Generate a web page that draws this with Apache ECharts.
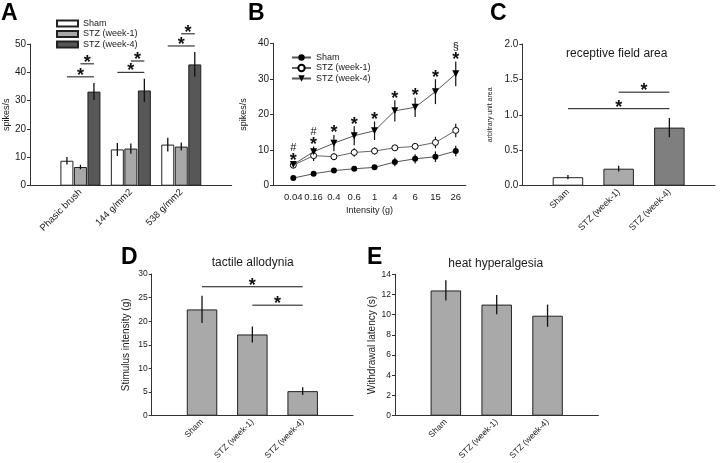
<!DOCTYPE html>
<html><head><meta charset="utf-8">
<script src="https://cdn.jsdelivr.net/npm/echarts@6/dist/echarts.min.js"></script>
<style>html,body{margin:0;padding:0;background:#fff}#c{width:720px;height:463px}</style>
</head><body><div id="c"></div>
<script>
// ---------- Panel A ----------
const groupsA = ['Phasic brush', '144 g/mm2', '538 g/mm2'];
const shamA = [8.8, 12.8, 14.5];
const shamAErr = [1.3, 2.3, 2.4];
const stz1A = [6.6, 13.1, 13.8];
const stz1AErr = [0.8, 1.8, 1.4];
const stz4A = [33.2, 33.6, 42.8];
const stz4AErr = [3.0, 4.1, 4.4];
// [group, fromBar, toBar, y]
const sigA = [[0,0,2,38.4],[0,1,2,43],[1,0,2,40],[1,1,2,44],[2,0,2,49.3],[2,1,2,53.6]];

// ---------- Panel B ----------
const intensB = ['0.04','0.16','0.4','0.6','1','4','6','15','26'];
const shamB = [2.1, 3.3, 4.2, 4.7, 5.1, 6.6, 7.5, 8.1, 9.7];
const shamBErr = [0.3, 0.4, 0.5, 0.5, 0.6, 1.2, 1.3, 1.5, 1.5];
const stz1B = [5.7, 8.4, 8.1, 9.3, 9.7, 10.6, 11.0, 12.1, 15.5];
const stz1BErr = [0.5, 1.5, 1.0, 1.2, 1.0, 0.8, 0.8, 1.6, 1.9];
const stz4B = [5.9, 9.5, 11.9, 14.0, 15.4, 21.0, 22.0, 26.4, 31.4];
const stz4BErr = [0.7, 1.5, 2.3, 2.7, 2.6, 3.0, 2.7, 3.5, 3.5];
const annB = [['*','#'],['*','#'],['*'],['*'],['*'],['*'],['*'],['*'],['*','§']];

// ---------- Panel C ----------
const catsC = ['Sham','STZ (week-1)','STZ (week-4)'];
const valC = [0.12, 0.24, 0.82];
const errC = [0.03, 0.04, 0.135];
const sigC = [[0,2,1.087],[1,2,1.32]];

// ---------- Panel D ----------
const catsD = ['Sham','STZ (week-1)','STZ (week-4)'];
const valD = [22.5, 17.2, 5.2];
const errD = [2.9, 1.7, 0.8];
const sigD = [[0,2,27.3],[1,2,23.4]];

// ---------- Panel E ----------
const catsE = ['Sham','STZ (week-1)','STZ (week-4)'];
const valE = [12.4, 11.0, 9.9];
const errE = [1.0, 0.95, 1.1];

// ---------- styles ----------
const FONT = '"Liberation Sans", Arial, Helvetica, sans-serif';
const AX = '#333';
const TXT = '#1a1a1a';
const STAR = 18;

function xCatAxis(gi, min, max, labels, fontSize, rotate, margin) {
  return {type:'value', gridIndex:gi, min, max,
    axisLine:{show:true, onZero:false, lineStyle:{color:AX, width:1}},
    axisTick:{show:false}, splitLine:{show:false},
    axisLabel:{customValues: labels.map((_, i) => i), formatter: v => labels[Math.round(v)] ?? '',
      rotate, fontSize, color:TXT, fontFamily:FONT, margin}};
}
function yValAxis(gi, max, interval, fontSize, name, nameSize, nameGap, fmt) {
  return {type:'value', gridIndex:gi, min:0, max, interval,
    axisLine:{show:true, onZero:false, lineStyle:{color:AX, width:1}},
    axisTick:{show:true, length:3, lineStyle:{color:AX}},
    splitLine:{show:false},
    axisLabel:{fontSize, color:TXT, fontFamily:FONT, margin:4, formatter: fmt},
    name, nameLocation:'middle', nameRotate:90, nameGap,
    nameTextStyle:{fontSize:nameSize, color:TXT, fontFamily:FONT}};
}
function errSeries(gi, vals, errs, offsetPx, color, width) {
  return {type:'custom', xAxisIndex:gi, yAxisIndex:gi, silent:true, z:5,
    data: vals.map((v, i) => [i, v, errs[i]]),
    encode:{x:0, y:1},
    renderItem: (params, api) => {
      const x = api.value(0), y = api.value(1), e = api.value(2);
      const p1 = api.coord([x, y + e]), p2 = api.coord([x, y - e]);
      return {type:'line', shape:{x1:p1[0] + offsetPx, y1:p1[1], x2:p2[0] + offsetPx, y2:p2[1]},
        style:{stroke:color, lineWidth:width}};
    }};
}
function starText(x, y, size) {
  return {type:'text', x, y, style:{text:'*', fontSize:size, fontWeight:'bold', fontFamily:FONT,
    fill:'#111', align:'center', verticalAlign:'middle'}};
}
function sigGroupSeries(gi, sigs, offsets) {
  return {type:'custom', xAxisIndex:gi, yAxisIndex:gi, silent:true, z:6,
    data: sigs.map(s => [s[0], s[3], s[1], s[2]]),
    encode:{x:0, y:1},
    renderItem: (params, api) => {
      const p = api.coord([api.value(0), api.value(1)]);
      const x1 = p[0] + offsets[api.value(2)], x2 = p[0] + offsets[api.value(3)];
      return {type:'group', children:[
        {type:'line', shape:{x1, y1:p[1], x2, y2:p[1]}, style:{stroke:'#111', lineWidth:1}},
        starText((x1 + x2) / 2, p[1] - 1, STAR)]};
    }};
}
function sigBarSeries(gi, sigs) {
  return {type:'custom', xAxisIndex:gi, yAxisIndex:gi, silent:true, z:6,
    data: sigs.map(s => [s[0], s[2], s[1]]),
    encode:{x:0, y:1},
    renderItem: (params, api) => {
      const p1 = api.coord([api.value(0), api.value(1)]);
      const p2 = api.coord([api.value(2), api.value(1)]);
      return {type:'group', children:[
        {type:'line', shape:{x1:p1[0], y1:p1[1], x2:p2[0], y2:p2[1]}, style:{stroke:'#111', lineWidth:1}},
        starText((p1[0] + p2[0]) / 2, p1[1] - 1, STAR)]};
    }};
}

const barColorsA = ['#ffffff', '#a8a8a8', '#575757'];
const barColorsC = ['#ffffff', '#aaaaaa', '#7f7f7f'];
const barGray = '#a9a9a9';
const bwA = 13, gapA = 0.5;
const offA = [-(bwA + gapA), 0, bwA + gapA];

function barSeries(name, gi, vals, color, width, gap) {
  return {name, type:'bar', xAxisIndex:gi, yAxisIndex:gi, barWidth:width, barGap:gap,
    data: vals.map((v, i) => [i, v]),
    itemStyle:{color, borderColor:'#222', borderWidth:1}, z:3, silent:true};
}

const option = {
  animation:false,
  backgroundColor:'#ffffff',
  textStyle:{fontFamily:FONT},
  grid:[
    {left:30, top:44, width:201.7, height:141.7, outerBoundsMode:'none'},
    {left:273, top:43.3, width:192.9, height:142.2, outerBoundsMode:'none'},
    {left:522.3, top:44, width:192.7, height:141.7, outerBoundsMode:'none'},
    {left:151.7, top:274, width:201.3, height:141.7, outerBoundsMode:'none'},
    {left:395, top:274.3, width:203.4, height:141.4, outerBoundsMode:'none'}
  ],
  xAxis:[
    xCatAxis(0, -1, 3, groupsA, 9.5, 45, 5),
    Object.assign(xCatAxis(1, -1, 8.5, intensB, 9.5, 0, 7), {name:'Intensity (g)', nameLocation:'middle', nameGap:21,
      nameTextStyle:{fontSize:9, color:TXT, fontFamily:FONT}}),
    xCatAxis(2, -0.9, 2.9, catsC, 9, 45, 5),
    xCatAxis(3, -1, 3, catsD, 8.5, 45, 5),
    xCatAxis(4, -1, 3, catsE, 8.5, 45, 5)
  ],
  yAxis:[
    yValAxis(0, 50, 10, 10, 'spikes/s', 9, 19),
    yValAxis(1, 40, 10, 10, 'spikes/s', 9, 25),
    yValAxis(2, 2, 0.5, 10, 'arbitrary unit area', 7, 29, v => v.toFixed(1)),
    yValAxis(3, 30, 5, 8.5, 'Stimulus intensity (g)', 10, 20),
    yValAxis(4, 14, 2, 8.5, 'Withdrawal latency (s)', 10, 18)
  ],
  legend:[
    {data:['A:Sham','A:STZ (week-1)','A:STZ (week-4)'], orient:'vertical', left:56, top:19,
      itemWidth:21, itemHeight:6, itemGap:1.5, icon:'rect', selectedMode:false, padding:0,
      formatter: n => n.slice(2), textStyle:{fontSize:9, lineHeight:8, color:TXT, fontFamily:FONT}},
    {data:['B:Sham','B:STZ (week-1)','B:STZ (week-4)'], orient:'vertical', left:291, top:53,
      itemWidth:19, itemHeight:8, itemGap:1.5, selectedMode:false, padding:0,
      formatter: n => n.slice(2), textStyle:{fontSize:9, lineHeight:8, color:TXT, fontFamily:FONT}}
  ],
  graphic:[
    {type:'text', left:1, top:2, style:{text:'A', fontSize:23, fontWeight:'bold', fontFamily:FONT, fill:'#000'}},
    {type:'text', left:248, top:2, style:{text:'B', fontSize:23, fontWeight:'bold', fontFamily:FONT, fill:'#000'}},
    {type:'text', left:490, top:2, style:{text:'C', fontSize:23, fontWeight:'bold', fontFamily:FONT, fill:'#000'}},
    {type:'text', left:121, top:246, style:{text:'D', fontSize:23, fontWeight:'bold', fontFamily:FONT, fill:'#000'}},
    {type:'text', left:367, top:246, style:{text:'E', fontSize:23, fontWeight:'bold', fontFamily:FONT, fill:'#000'}},
    {type:'text', x:616.7, y:53.3, style:{text:'receptive field area', fontSize:12, fontFamily:FONT, fill:TXT, align:'center', verticalAlign:'middle'}},
    {type:'text', x:252.7, y:262.3, style:{text:'tactile allodynia', fontSize:12, fontFamily:FONT, fill:TXT, align:'center', verticalAlign:'middle'}},
    {type:'text', x:495.7, y:263.3, style:{text:'heat hyperalgesia', fontSize:12, fontFamily:FONT, fill:TXT, align:'center', verticalAlign:'middle'}}
  ],
  series:[
    // A
    barSeries('A:Sham', 0, shamA, barColorsA[0], bwA, '4%'),
    barSeries('A:STZ (week-1)', 0, stz1A, barColorsA[1], bwA, '4%'),
    barSeries('A:STZ (week-4)', 0, stz4A, barColorsA[2], bwA, '4%'),
    errSeries(0, shamA, shamAErr, offA[0], '#111', 1.3),
    errSeries(0, stz1A, stz1AErr, offA[1], '#111', 1.3),
    errSeries(0, stz4A, stz4AErr, offA[2], '#111', 1.3),
    sigGroupSeries(0, sigA, offA),
    // B
    errSeries(1, shamB, shamBErr, 0, '#111', 1.2),
    errSeries(1, stz1B, stz1BErr, 0, '#111', 1.2),
    errSeries(1, stz4B, stz4BErr, 0, '#111', 1.2),
    {name:'B:Sham', type:'line', xAxisIndex:1, yAxisIndex:1, data: shamB.map((v, i) => [i, v]),
      symbol:'circle', symbolSize:6, itemStyle:{color:'#000'}, lineStyle:{color:'#555', width:1}, z:7, silent:true},
    {name:'B:STZ (week-1)', type:'line', xAxisIndex:1, yAxisIndex:1, data: stz1B.map((v, i) => [i, v]),
      symbol:'circle', symbolSize:6, itemStyle:{color:'#fff', borderColor:'#000', borderWidth:1}, lineStyle:{color:'#666', width:1}, z:7, silent:true},
    {name:'B:STZ (week-4)', type:'line', xAxisIndex:1, yAxisIndex:1, data: stz4B.map((v, i) => [i, v]),
      symbol:'triangle', symbolRotate:180, symbolSize:7, itemStyle:{color:'#000'}, lineStyle:{color:'#555', width:1}, z:7, silent:true},
    {type:'custom', xAxisIndex:1, yAxisIndex:1, silent:true, z:8,
      data: stz4B.map((v, i) => [i, v + stz4BErr[i]]), encode:{x:0, y:1},
      renderItem: (params, api) => {
        const p = api.coord([api.value(0), api.value(1)]);
        const marks = annB[params.dataIndex];
        const ch = [starText(p[0], p[1] - 1.5, STAR)];
        if (marks[1]) ch.push({type:'text', x:p[0], y:p[1] - 14.5, style:{text:marks[1], fontSize:11, fontFamily:FONT,
          fill:'#111', align:'center', verticalAlign:'middle'}});
        return {type:'group', children:ch};
      }},
    // C
    {type:'bar', xAxisIndex:2, yAxisIndex:2, barWidth:30.5, silent:true, z:3,
      data: valC.map((v, i) => ({value:[i, v], itemStyle:{color:barColorsC[i]}})),
      itemStyle:{borderColor:'#222', borderWidth:1}},
    errSeries(2, valC, errC, 0, '#111', 1.3),
    sigBarSeries(2, sigC),
    // D
    barSeries('D', 3, valD, barGray, 30.5, '0%'),
    errSeries(3, valD, errD, 0, '#111', 1.3),
    sigBarSeries(3, sigD),
    // E
    barSeries('E', 4, valE, barGray, 30.5, '0%'),
    errSeries(4, valE, errE, 0, '#111', 1.3)
  ]
};
const chart = echarts.init(document.getElementById('c'), null, {renderer:'canvas'});
chart.setOption(option);
</script>
</body></html>
